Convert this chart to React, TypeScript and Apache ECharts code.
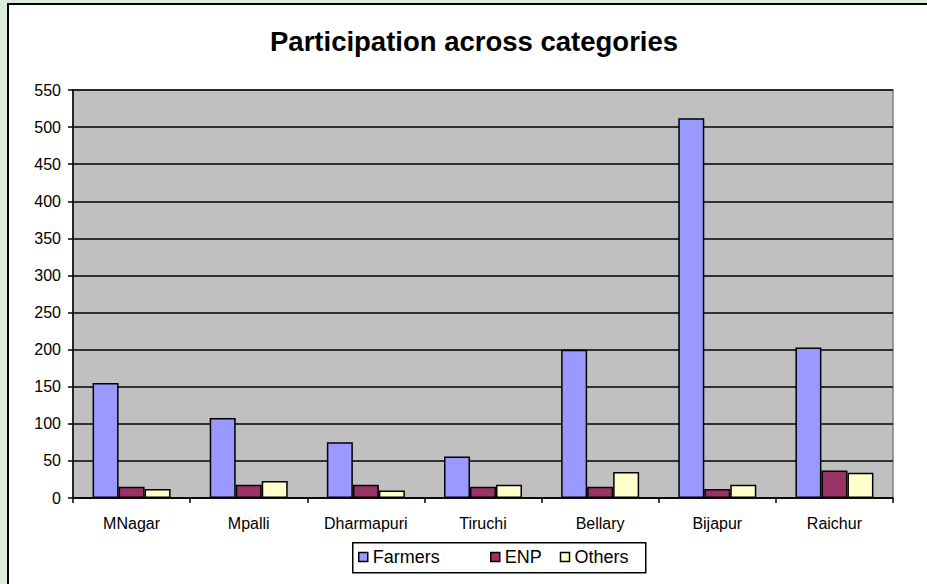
import React, { useEffect, useRef } from "react";
import * as echarts from "echarts";

const categories = ["MNagar", "Mpalli", "Dharmapuri", "Tiruchi", "Bellary", "Bijapur", "Raichur"];
const farmers = [155, 108, 75, 56, 200, 512, 203];
const enp = [15, 18, 18, 15, 15, 12, 37];
const others = [12, 23, 10, 18, 35, 18, 34];
const seriesNames = ["Farmers", "ENP", "Others"];
const seriesColors = ["#9999ff", "#993366", "#ffffcc"];
const titleText = "Participation across categories";

const FONT = "Arial, 'Liberation Sans', sans-serif";

export default function App() {
  const ref = useRef<HTMLDivElement>(null);

  useEffect(() => {
    if (!ref.current) return;
    const chart = echarts.init(ref.current, null, { renderer: "svg" });
    const values = [farmers, enp, others];
    const legendBase = {
      top: 548,
      padding: 0,
      itemWidth: 9,
      itemHeight: 9,
      itemGap: 18,
      icon: "rect",
      itemStyle: { borderColor: "#000", borderWidth: 1.5 },
      textStyle: { fontFamily: FONT, fontSize: 18, color: "#000" },
    };
    chart.setOption({
      animation: false,
      title: {
        text: titleText,
        left: 270,
        top: 27,
        padding: 0,
        textStyle: { fontFamily: FONT, fontSize: 27.5, fontWeight: "bold", color: "#000" },
      },
      graphic: [
        {
          type: "rect",
          left: 352,
          top: 542,
          shape: { width: 293, height: 30 },
          style: { fill: "#fff", stroke: "#000", lineWidth: 1.5 },
          z: -1,
        },
      ],
      grid: {
        left: 73,
        right: 34,
        top: 90,
        bottom: 86,
        show: true,
        backgroundColor: "#c0c0c0",
        borderColor: "#808080",
        borderWidth: 1.5,
      },
      legend: [
        { ...legendBase, left: 358, data: [seriesNames[0]] },
        { ...legendBase, left: 490, data: [seriesNames[1], seriesNames[2]] },
      ],
      xAxis: {
        type: "category",
        data: categories,
        axisLine: { lineStyle: { color: "#000", width: 1.5 } },
        axisTick: { show: true, alignWithLabel: false, length: 5, lineStyle: { color: "#000", width: 1.5 } },
        axisLabel: { fontFamily: FONT, fontSize: 16, color: "#000", margin: 17 },
        splitLine: { show: false },
      },
      yAxis: {
        type: "value",
        min: 0,
        max: 550,
        interval: 50,
        axisLine: { show: true, lineStyle: { color: "#000", width: 1.5 } },
        axisTick: { show: true, length: 5, lineStyle: { color: "#000", width: 1.5 } },
        axisLabel: { fontFamily: FONT, fontSize: 16, color: "#000", margin: 12 },
        splitLine: { show: true, lineStyle: { color: "#000", width: 1.5 } },
      },
      series: seriesNames.map((name, i) => ({
        name,
        type: "bar",
        data: values[i],
        barWidth: 26,
        barGap: "0%",
        itemStyle: { color: seriesColors[i], borderColor: "#000", borderWidth: 1.5 },
      })),
    });
    return () => chart.dispose();
  }, []);

  return (
    <div
      style={{
        position: "absolute",
        left: 0,
        top: 0,
        width: 927,
        height: 584,
        overflow: "hidden",
        background: "#dcecdc",
      }}
    >
      <div
        style={{
          position: "absolute",
          left: 7,
          top: 3,
          width: 1000,
          height: 1000,
          border: "2px solid #000",
          background: "#fff",
        }}
      />
      <div ref={ref} style={{ position: "absolute", left: 0, top: 0, width: 927, height: 584 }} />
    </div>
  );
}
